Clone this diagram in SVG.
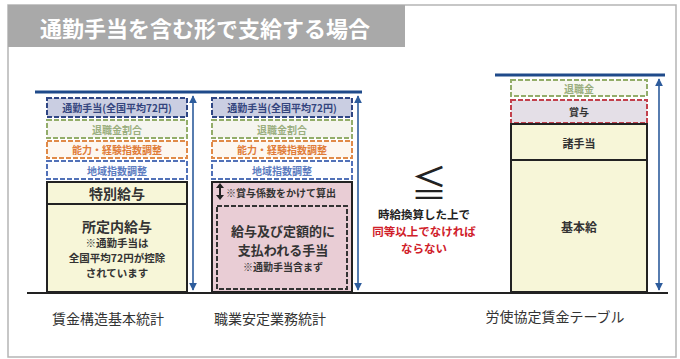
<svg xmlns="http://www.w3.org/2000/svg" width="680" height="359" viewBox="0 0 680 359">
<style>
text{font-family:"Noto Sans CJK JP","Noto Sans",sans-serif;text-anchor:middle;dominant-baseline:central}
.t{font-size:10px;font-weight:700}
.b{font-size:14px;font-weight:700;fill:#333}
.s{font-size:10.5px;font-weight:700;fill:#333}
.lab{font-size:14px;fill:#333}
.d{stroke-width:2;stroke-dasharray:5 2}
.solid{fill:#f7f6d8;stroke:#222;stroke-width:2}
.top{stroke:#1f4a8a;stroke-width:3}
.arr{stroke:#2d5c9c;stroke-width:1.6;marker-start:url(#ah);marker-end:url(#ah)}
</style>
<defs>
<marker id="ah" viewBox="0 0 10 10" refX="9" refY="5" markerWidth="5" markerHeight="5" orient="auto-start-reverse">
<path d="M0,0 L10,5 L0,10 z" fill="#2d5c9c"/>
</marker>
</defs>
<rect x="0" y="0" width="680" height="359" fill="#fff"/>
<rect x="8" y="5" width="668" height="352" fill="#fff" stroke="#b5b5b5" stroke-width="1.5"/>
<g id="title">
<rect x="8" y="5" width="397" height="42" fill="#a9a9a9"/>
<text x="205" y="27" style="font-size:22px;font-weight:700;fill:#fff">通勤手当を含む形で支給する場合</text>
</g>
<g id="connectors">
<line class="top" x1="35" y1="92" x2="362" y2="92"/>
<line class="top" x1="495" y1="75" x2="665" y2="75"/>
<line x1="27" y1="293" x2="668" y2="293" stroke="#222" stroke-width="2"/>
<line class="arr" x1="193" y1="96" x2="193" y2="290"/>
<line class="arr" x1="358" y1="96" x2="358" y2="290"/>
<line class="arr" x1="659" y1="79" x2="659" y2="290"/>
</g>
<g id="col1">
<rect class="d" x="47" y="98" width="140" height="19" fill="#cacee2" stroke="#2f4684"/>
<text class="t" x="117" y="107.5" fill="#34457e">通勤手当(全国平均72円)</text>
<rect class="d" x="47" y="120" width="140" height="18" fill="#f5f5ef" stroke="#93ad6a"/>
<text class="t" x="117" y="129" fill="#9aae7e">退職金割合</text>
<rect class="d" x="47" y="141" width="140" height="17" fill="#fdf7f0" stroke="#e08a48"/>
<text class="t" x="117" y="149.5" fill="#e07c38">能力・経験指数調整</text>
<rect class="d" x="47" y="161" width="140" height="18" fill="#fdfdff" stroke="#5070b8"/>
<text class="t" x="117" y="170" fill="#5b7bc0">地域指数調整</text>
<rect class="solid" x="47" y="182" width="140" height="22"/>
<text class="b" x="117" y="193">特別給与</text>
<rect class="solid" x="47" y="204" width="140" height="88"/>
<text class="b" x="117" y="226">所定内給与</text>
<text class="s" x="117" y="242">※通勤手当は</text>
<text class="s" x="117" y="257">全国平均72円が控除</text>
<text class="s" x="117" y="272">されています</text>
</g>
<g id="col2">
<rect class="d" x="212" y="98" width="140" height="19" fill="#cacee2" stroke="#2f4684"/>
<text class="t" x="282" y="107.5" fill="#34457e">通勤手当(全国平均72円)</text>
<rect class="d" x="212" y="120" width="140" height="18" fill="#f5f5ef" stroke="#93ad6a"/>
<text class="t" x="282" y="129" fill="#9aae7e">退職金割合</text>
<rect class="d" x="212" y="141" width="140" height="17" fill="#fdf7f0" stroke="#e08a48"/>
<text class="t" x="282" y="149.5" fill="#e07c38">能力・経験指数調整</text>
<rect class="d" x="212" y="161" width="140" height="18" fill="#fdfdff" stroke="#5070b8"/>
<text class="t" x="282" y="170" fill="#5b7bc0">地域指数調整</text>
<rect x="212" y="182" width="140" height="110" fill="#e9cdd5" stroke="#222" stroke-width="2"/>
<line x1="220" y1="185" x2="220" y2="198" stroke="#222" stroke-width="2"/>
<path d="M216,188 L220,183 L224,188 z M216,195 L220,200 L224,195 z" fill="#222"/>
<text x="281" y="192" style="font-size:10px;font-weight:700;fill:#333">※賞与係数をかけて算出</text>
<rect x="217" y="206" width="130" height="83" fill="#e9cdd5" stroke="#333" stroke-width="2" stroke-dasharray="5 2"/>
<text x="283" y="230" style="font-size:13px;font-weight:700;fill:#333">給与及び定額的に</text>
<text x="283" y="249" style="font-size:13px;font-weight:700;fill:#333">支払われる手当</text>
<text x="283" y="266" style="font-size:10px;font-weight:700;fill:#333">※通勤手当含まず</text>
</g>
<g id="compare">
<text x="429" y="181" style="font-size:36px;fill:#222">≦</text>
<text x="424" y="214" style="font-size:11.5px;font-weight:700;fill:#222">時給換算した上で</text>
<text x="424" y="231" style="font-size:11.5px;font-weight:700;fill:#d0202a">同等以上でなければ</text>
<text x="424" y="248" style="font-size:11.5px;font-weight:700;fill:#d0202a">ならない</text>
</g>
<g id="col3">
<rect class="d" x="511" y="80" width="136" height="16" fill="#f7f7f0" stroke="#93ad6a"/>
<text class="t" x="579" y="88" fill="#9aae7e">退職金</text>
<rect class="d" x="511" y="100" width="136" height="23" fill="#e4dfe7" stroke="#c2404c"/>
<text class="t" x="579" y="111.5" fill="#333">賞与</text>
<rect class="solid" x="511" y="124" width="136" height="36"/>
<text x="579" y="143" style="font-size:11px;font-weight:700;fill:#333">諸手当</text>
<rect class="solid" x="511" y="160" width="136" height="132"/>
<text x="579" y="226" style="font-size:12px;font-weight:700;fill:#333">基本給</text>
</g>
<g id="labels">
<text class="lab" x="108" y="318">賃金構造基本統計</text>
<text class="lab" x="270" y="318">職業安定業務統計</text>
<text class="lab" x="555" y="316">労使協定賃金テーブル</text>
</g>
</svg>
